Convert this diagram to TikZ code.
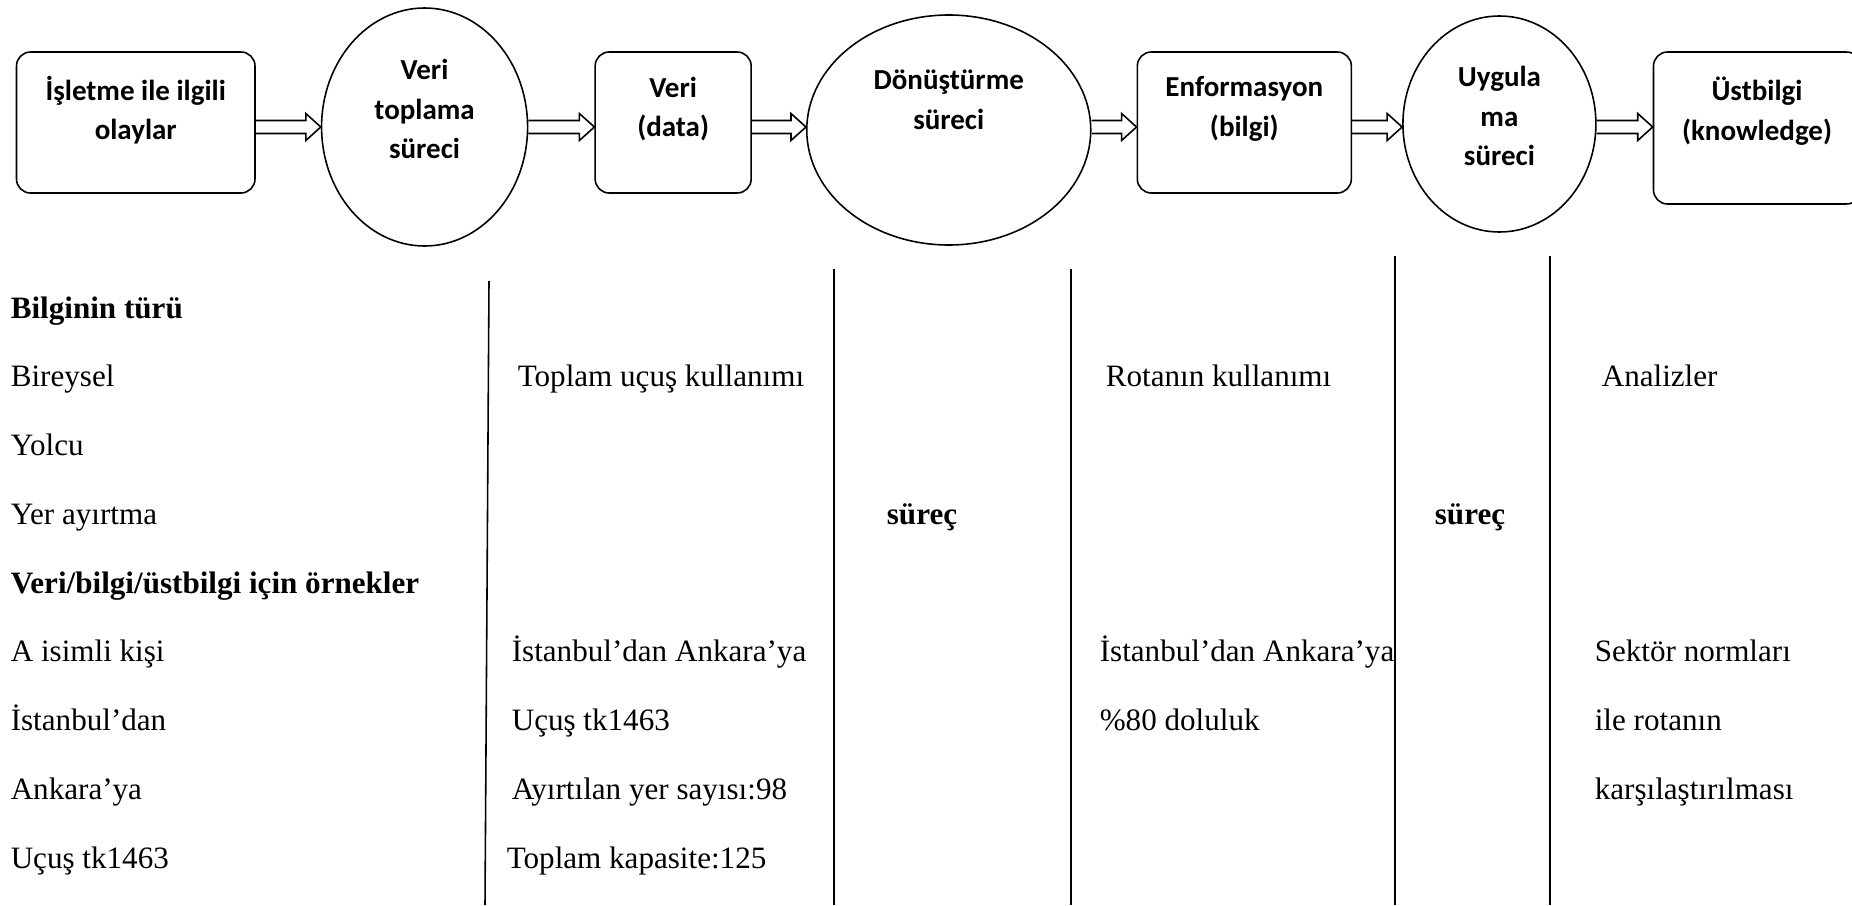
\documentclass[tikz,border=0pt]{standalone}
\usepackage{fontspec}
\setmainfont{Liberation Serif}
\newfontfamily\topfont{Carlito}
\usetikzlibrary{shapes.geometric,positioning,calc}

% outlined block arrow between two shapes, on the arrow row
\newcommand{\blockarrow}[2]{%
  \draw[blockarrow] ($(#1.east |- arrowrow)+(0,0.13)$)
    -- ($(#2.west |- arrowrow)+(-0.3,0.13)$) -- ++(0,0.14)
    -- (#2.west |- arrowrow) -- ++(-0.3,-0.27) -- ++(0,0.14)
    -- ($(#1.east |- arrowrow)+(0,-0.13)$);}

\begin{document}
\begin{tikzpicture}[
  line width=0.9pt,
  stage/.style={draw, rounded corners=0.28cm, minimum height=2.82cm, inner sep=0pt},
  process/.style={draw, ellipse, inner sep=0pt},
  toptext/.style={align=center, inner sep=0pt, font=\topfont\bfseries\fontsize{16.5}{22.5}\selectfont},
  cell/.style={anchor=base west, inner sep=0pt, font=\fontsize{17.7}{21}\selectfont},
  head/.style={cell, font=\bfseries\fontsize{17.7}{21}\selectfont},
  blockarrow/.style={line join=miter},
  divider/.style={line width=0.9pt}
]
\useasboundingbox (0,0) rectangle (37.04,-18.10);

% top row
\node[stage, minimum width=4.77cm] (events) at (2.715,-2.45) {};
\node[process, minimum width=4.12cm, minimum height=4.76cm, right=1.3cm of events, yshift=-0.09cm] (collect) {};
\node[stage, minimum width=3.12cm, right=1.32cm of collect, yshift=0.09cm] (data) {};
\node[process, minimum width=5.68cm, minimum height=4.6cm, right=1.08cm of data, yshift=-0.15cm] (transform) {};
\node[stage, minimum width=4.28cm, right=0.9cm of transform, yshift=0.15cm] (info) {};
\node[process, minimum width=3.86cm, minimum height=4.32cm, right=1.0cm of info, yshift=-0.03cm] (apply) {};
\node[stage, minimum width=4.14cm, minimum height=3.04cm, right=1.12cm of apply, yshift=-0.08cm] (knowledge) {};

\node[toptext] (eventst) at ([yshift=0.25cm]events.center) {İşletme ile ilgili\\olaylar};
\node[toptext] (collectt) at ([yshift=0.36cm]collect.center) {Veri\\toplama\\süreci};
\node[toptext] (datat) at ([yshift=0.27cm]data.center) {Veri\\(data)};
\node[toptext] (transformt) at ([yshift=0.6cm]transform.center) {Dönüştürme\\süreci};
\node[toptext] (infot) at ([yshift=0.27cm]info.center) {Enformasyon\\(bilgi)};
\node[toptext] (applyt) at ([yshift=0.16cm]apply.center) {Uygula\\ma\\süreci};
\node[toptext] (knowledget) at ([yshift=0.34cm]knowledge.center) {Üstbilgi\\(knowledge)};

\coordinate (arrowrow) at (0,-2.54);
\blockarrow{events}{collect}
\blockarrow{collect}{data}
\blockarrow{data}{transform}
\blockarrow{transform}{info}
\blockarrow{info}{apply}
\blockarrow{apply}{knowledge}

% column rules
\draw[divider] (9.78,-5.62) -- (9.70,-18.10);
\draw[divider] (16.68,-5.38) -- (16.68,-18.10);
\draw[divider] (21.42,-5.38) -- (21.42,-18.10);
\draw[divider] (27.90,-5.12) -- (27.90,-18.10);
\draw[divider] (31.00,-5.12) -- (31.00,-18.10);

% first column
\node[head] (kind) at (0.2,-6.36) {Bilginin türü};
\node[cell] (single) at (0.2,-7.735) {Bireysel};
\node[cell] (passenger) at (0.2,-9.11) {Yolcu};
\node[cell] (booking) at (0.2,-10.485) {Yer ayırtma};
\node[head] (examples) at (0.2,-11.86) {Veri/bilgi/üstbilgi için örnekler};
\node[cell] (person) at (0.2,-13.235) {A isimli kişi};
\node[cell] (from) at (0.2,-14.61) {İstanbul’dan};
\node[cell] (to) at (0.2,-15.985) {Ankara’ya};
\node[cell] (flight) at (0.2,-17.36) {Uçuş tk1463};

% data column
\node[cell] (usage) at (10.34,-7.735) {Toplam uçuş kullanımı};
\node[cell] (route) at (10.22,-13.235) {İstanbul’dan Ankara’ya};
\node[cell] (flightno) at (10.22,-14.61) {Uçuş tk1463};
\node[cell] (booked) at (10.22,-15.985) {Ayırtılan yer sayısı:98};
\node[cell] (capacity) at (10.12,-17.36) {Toplam kapasite:125};

\node[head, anchor=base] (procone) at (18.44,-10.485) {süreç};

% information column
\node[cell] (routeuse) at (22.1,-7.735) {Rotanın kullanımı};
\node[cell] (routeinfo) at (21.98,-13.235) {İstanbul’dan Ankara’ya};
\node[cell] (load) at (21.98,-14.61) {\%80 doluluk};

\node[head, anchor=base] (proctwo) at (29.4,-10.485) {süreç};

% knowledge column
\node[cell] (analyses) at (32.02,-7.735) {Analizler};
\node[cell] (norms) at (31.88,-13.235) {Sektör normları};
\node[cell] (withroute) at (31.88,-14.61) {ile rotanın};
\node[cell] (compare) at (31.88,-15.985) {karşılaştırılması};
\end{tikzpicture}
\end{document}
